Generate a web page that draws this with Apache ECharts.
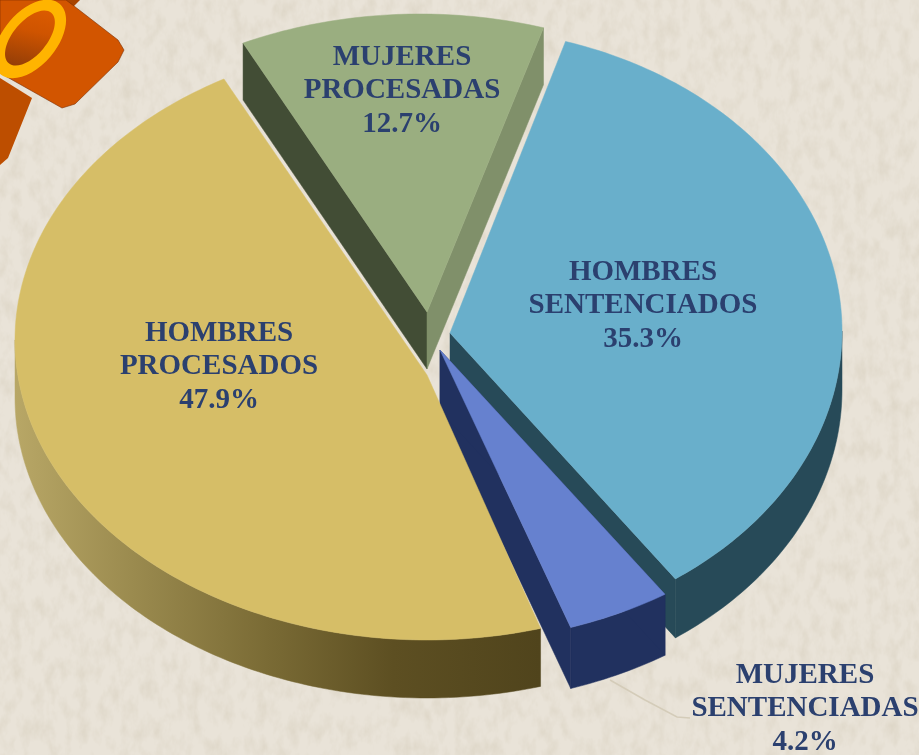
<!DOCTYPE html>
<html><head><meta charset="utf-8">
<script src="https://cdn.jsdelivr.net/npm/echarts@6/dist/echarts.min.js"></script>
<style>
html,body{margin:0;padding:0;width:919px;height:755px;overflow:hidden;background-color:#e9e3d8;}
#tex{position:absolute;left:0;top:0;width:919px;height:755px;}
#c{position:absolute;left:0;top:0;width:919px;height:755px;}
</style></head><body>
<svg id="tex" xmlns="http://www.w3.org/2000/svg" width="919" height="755">
<filter id="n" x="0" y="0" width="100%" height="100%"><feTurbulence type="fractalNoise" baseFrequency="0.09 0.05" numOctaves="4" seed="11"/>
<feColorMatrix values="0 0 0 0 0.62  0 0 0 0 0.56  0 0 0 0 0.44  0.75 0 0 0 -0.30"/></filter>
<rect width="919" height="755" filter="url(#n)"/>
</svg>
<div id="c"></div>
<script>
const categories = ['HOMBRES\nPROCESADOS', 'MUJERES\nPROCESADAS', 'HOMBRES\nSENTENCIADOS', 'MUJERES\nSENTENCIADAS'];
const values = [47.9, 12.7, 35.3, 4.2];
const drawOrder = [1, 2, 3, 0];

const START = 72;
const total = values.reduce((a, b) => a + b, 0);
const ringStyle = [
  {c:[427,340], rx:412, ry:300, apex:[427,375], trim:[2,-3.8], top:'#d6be67', depth:58},
  {c:[420,314], rx:412, ry:300, apex:[427,312], trim:[0.3,-2.5], top:'#9aae80', cutL:'#424d35', cutR:'#80906a', depth:57},
  {c:[450,331], rx:392, ry:303, apex:[450,333], trim:[-2.8,-2.0], top:'#69afcb', wall:'#274a58', depth:59},
  {c:[440,343], rx:412, ry:300, apex:[440,350], trim:[0,-0.5], top:'#6681cf', wall:'#21315f', depth:61}
];
const labelAt = [[219,367],[402,91],[643,306],[805,709]];
const labelColor = '#2b406f';

let acc = START;
const spans = values.map((v, i) => {
  const s = acc, e = acc + v / total * 360; acc = e;
  return [s + ringStyle[i].trim[0], e + ringStyle[i].trim[1]];
});
const rad = d => d * Math.PI / 180;
function rim(st, d) { return [st.c[0] + st.rx * Math.cos(rad(d)), st.c[1] + st.ry * Math.sin(rad(d))]; }
function arcPts(st, a, b) { const p = []; const n = Math.max(2, Math.ceil(Math.abs(b - a))); for (let k = 0; k <= n; k++) p.push(rim(st, a + (b - a) * k / n)); return p; }
function drop(p, d) { return p.map(q => [q[0], q[1] + d]); }
function poly(points, fill, z2) { return {type:'polygon', z2, shape:{points}, style:{fill, stroke:fill, lineWidth:0.5}}; }

const yellowWall = {type:'linear', x:15, y:0, x2:540, y2:0, global:true, colorStops:[
  {offset:0,color:'#b8a766'},{offset:.22,color:'#9b8b4f'},{offset:.48,color:'#7a6b35'},{offset:.72,color:'#5d4f22'},{offset:1,color:'#50441c'}]};

function renderItem(params, api) {
  const i = api.value(0), st = ringStyle[i], sp = spans[i], base = drawOrder.indexOf(i) * 10, d = st.depth;
  const kids = [];
  const arc = arcPts(st, sp[0], sp[1]);
  const a0 = arc[0], a1 = arc[arc.length - 1];
  const cut = (p, fill) => poly([st.apex, p, ...drop([p], d), ...drop([st.apex], d)], fill, base + 1);
  if (i === 1) { // back slice: both cut faces are visible
    kids.push(cut(a0, st.cutL));
    kids.push(cut(a1, st.cutR));
  } else {
    // outer wall, only the front half of the rim
    [[sp[0], sp[1]], [sp[0] - 360, sp[1] - 360], [sp[0] + 360, sp[1] + 360]].forEach(r => {
      const f = Math.max(r[0], 0), t = Math.min(r[1], 180);
      if (t > f) { const w = arcPts(st, f, t); kids.push(poly([...w, ...drop(w, d).reverse()], i === 0 ? yellowWall : st.wall, base + 1)); }
    });
    if (i === 2) kids.push(cut(a1, st.wall));
    if (i === 3) { kids.push(cut(a1, st.wall)); kids.push(cut(a0, st.wall)); }
  }
  kids.push(poly([st.apex, ...arc], st.top, base + 2));
  kids.push({type:'text', z2:100, style:{
    x:labelAt[i][0], y:labelAt[i][1], align:'center', verticalAlign:'middle',
    text:categories[i] + '\n' + api.value(1).toFixed(1) + '%',
    font:'bold 29px "Liberation Serif", serif', lineHeight:33.5, fill:labelColor}});
  return {type:'group', children:kids};
}

const chart = echarts.init(document.getElementById('c'), null, {renderer:'canvas', width:919, height:755});
chart.setOption({
  backgroundColor:'transparent', animation:false,
  tooltip:{show:false},
  series:[{type:'custom', coordinateSystem:'none', silent:true, clip:false,
    dimensions:['i','v'], data:drawOrder.map(i => [i, values[i]]), renderItem}],
  graphic:[
    {type:'polyline', z:-1, shape:{points:[[610,680],[645,700],[677,717],[690,718]]}, style:{stroke:'#d4ccb9', lineWidth:1.5, fill:null}},
    {type:'polygon', shape:{points:[[80,0],[72,8],[0,8],[0,0]]}, style:{fill:'#a84400'}},
    {type:'polygon', shape:{points:[[0,78],[32,98],[8,158],[0,165]]}, style:{fill:'#bd4e00'}},
    {type:'polygon', shape:{points:[[74,6],[118,40],[124,50],[118,62],[75,104],[62,108],[0,73],[0,0],[66,0]]}, style:{fill:'#d25500', stroke:'#7c2e00', lineWidth:0.6}},
    {type:'ellipse', shape:{cx:0, cy:0, rx:46, ry:27}, x:30, y:39, rotation:rad(50), style:{fill:'#ffb400'}},
    {type:'ellipse', shape:{cx:0, cy:0, rx:33, ry:17}, x:30, y:38, rotation:rad(50), style:{
      fill:new echarts.graphic.LinearGradient(0,1,1,0,[{offset:0,color:'#8a3a08'},{offset:.6,color:'#cf5400'},{offset:1,color:'#df5d00'}])}}
  ]
});
</script>
</body></html>
